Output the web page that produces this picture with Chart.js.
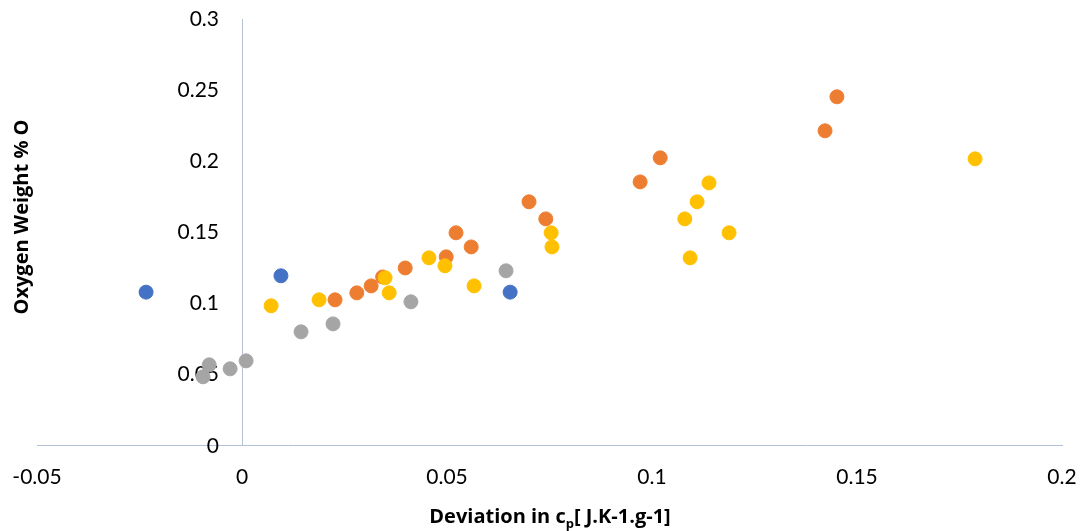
<!DOCTYPE html>
<html>
<head>
<meta charset="utf-8">
<script src="https://cdn.jsdelivr.net/npm/chart.js@4/dist/chart.umd.min.js"></script>
<style>
  html, body { margin: 0; padding: 0; background: #fff; }
  #wrap { width: 1081px; height: 531px; position: relative; }
</style>
</head>
<body>
<div id="wrap"><canvas id="c" width="1081" height="531"></canvas></div>
<script>
// Deviation in cp (x) against oxygen weight % (y), four sample groups
const blueX   = [-0.0234, 0.0095, 0.0654];
const blueY   = [0.108, 0.1195, 0.108];

const orangeX = [0.0227, 0.0280, 0.0315, 0.0343, 0.0398, 0.0498, 0.0522, 0.0559, 0.0700, 0.0741, 0.0971, 0.1020, 0.1422, 0.1451];
const orangeY = [0.1026, 0.1075, 0.1124, 0.1187, 0.1250, 0.1328, 0.1497, 0.1398, 0.1715, 0.1595, 0.1855, 0.2024, 0.2214, 0.2453];

const greyX   = [-0.0095, -0.0080, -0.0029, 0.0010, 0.0144, 0.0222, 0.0412, 0.0644];
const greyY   = [0.0485, 0.0569, 0.0541, 0.0597, 0.0801, 0.0857, 0.1012, 0.1230];

const yellowX = [0.0071, 0.0188, 0.0349, 0.0359, 0.0456, 0.0495, 0.0566, 0.0754, 0.0756, 0.1080, 0.1093, 0.1110, 0.1139, 0.1188, 0.1788];
const yellowY = [0.0984, 0.1026, 0.1181, 0.1075, 0.1321, 0.1265, 0.1124, 0.1497, 0.1398, 0.1595, 0.1321, 0.1715, 0.1848, 0.1497, 0.2017];

const xTicks = [-0.05, 0, 0.05, 0.1, 0.15, 0.2];
const yTicks = [0, 0.05, 0.1, 0.15, 0.2, 0.25, 0.3];

const xTitleParts = ['Deviation in c', 'p', '[ J.K-1.g-1]'];
const yTitle = 'Oxygen Weight % O';

const toPoints = (xs, ys) => xs.map((x, i) => ({ x: x, y: ys[i] }));
const fmt = (v) => Number(v.toFixed(4)).toString();

const AXIS_COLOR = '#B4C0D8';
const TICK_FONT = { family: 'Lato, "Open Sans", sans-serif', size: 21 };
const Y_LABEL_GAP = 23;

function series(xs, ys, color, order) {
  return {
    data: toPoints(xs, ys),
    backgroundColor: color,
    borderColor: color,
    borderWidth: 1,
    pointRadius: 7,
    pointHoverRadius: 7,
    showLine: false,
    order: order
  };
}

// The value axis crosses at x = 0; its labels sit right-aligned just left of that line
const crossingLabels = {
  id: 'crossingLabels',
  beforeDraw(chart) {
    const ys = chart.scales.y;
    const x0 = chart.scales.x.getPixelForValue(0);
    ys.getLabelItems().forEach((item) => {
      item.options.textAlign = 'right';
      item.options.translation[0] = x0 - Y_LABEL_GAP;
    });
  }
};

// Axis titles, with the subscript p in the x title
const axisTitles = {
  id: 'axisTitles',
  afterDraw(chart) {
    const ctx = chart.ctx;
    ctx.save();
    ctx.fillStyle = '#000';
    ctx.textBaseline = 'middle';

    const big = 'bold 20px "Open Sans", sans-serif';
    const small = 'bold 13px "Open Sans", sans-serif';
    ctx.font = big;
    const w0 = ctx.measureText(xTitleParts[0]).width;
    const w2 = ctx.measureText(xTitleParts[2]).width;
    ctx.font = small;
    const w1 = ctx.measureText(xTitleParts[1]).width;
    const total = w0 + w1 + w2;
    let x = 550 - total / 2;
    const y = 517;
    ctx.textAlign = 'left';
    ctx.font = big;
    ctx.fillText(xTitleParts[0], x, y);
    x += w0;
    ctx.font = small;
    ctx.fillText(xTitleParts[1], x, y + 7);
    x += w1;
    ctx.font = big;
    ctx.fillText(xTitleParts[2], x, y);

    ctx.translate(22, 217);
    ctx.rotate(-Math.PI / 2);
    ctx.textAlign = 'center';
    ctx.font = big;
    ctx.fillText(yTitle, 0, 0);
    ctx.restore();
  }
};

new Chart(document.getElementById('c'), {
  type: 'scatter',
  data: {
    datasets: [
      series(blueX, blueY, '#4472C4', 4),
      series(orangeX, orangeY, '#ED7D31', 3),
      series(greyX, greyY, '#A5A5A5', 2),
      series(yellowX, yellowY, '#FFC000', 1)
    ]
  },
  options: {
    responsive: false,
    animation: false,
    layout: { padding: { left: 37, right: 19, top: 19, bottom: 41 } },
    plugins: {
      legend: { display: false },
      tooltip: { enabled: false }
    },
    scales: {
      x: {
        type: 'linear',
        position: 'bottom',
        min: xTicks[0],
        max: xTicks[xTicks.length - 1],
        afterBuildTicks: (s) => { s.ticks = xTicks.map(v => ({ value: v })); },
        grid: { display: false, drawTicks: true, tickLength: 19 },
        border: { display: true, color: AXIS_COLOR, width: 1 },
        ticks: { color: '#000', font: TICK_FONT, padding: 0, maxRotation: 0, autoSkip: false, callback: fmt }
      },
      y: {
        type: 'linear',
        position: { x: 0 },
        z: 1,
        min: yTicks[0],
        max: yTicks[yTicks.length - 1],
        afterBuildTicks: (s) => { s.ticks = yTicks.map(v => ({ value: v })); },
        grid: { display: false, drawTicks: false },
        border: { display: true, color: AXIS_COLOR, width: 1 },
        ticks: { color: '#000', font: TICK_FONT, padding: 0, autoSkip: false, callback: fmt }
      }
    }
  },
  plugins: [crossingLabels, axisTitles]
});
</script>
</body>
</html>
